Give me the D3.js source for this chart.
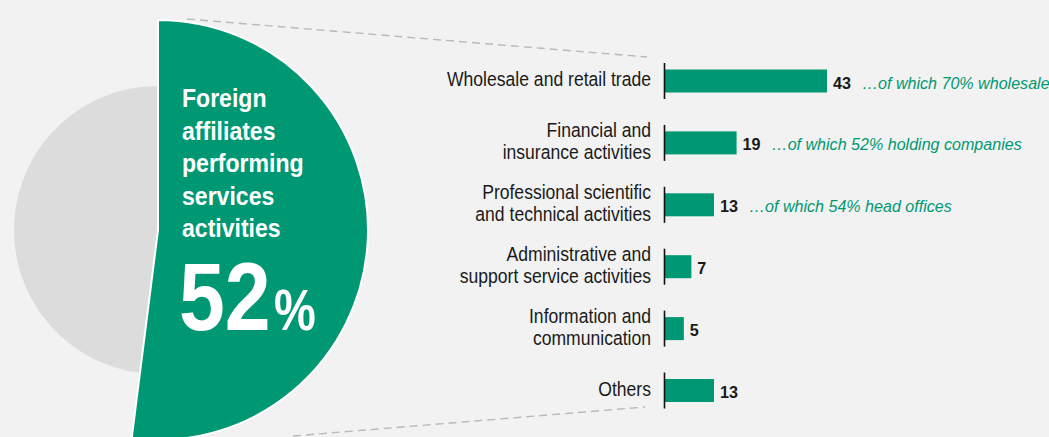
<!DOCTYPE html>
<html><head><meta charset="utf-8">
<script src="https://cdn.jsdelivr.net/npm/d3@7"></script>
<style>
html,body{margin:0;padding:0;background:#f2f2f2;}
svg{display:block;}
text{font-family:"Liberation Sans",Arial,Helvetica,sans-serif;}
</style></head><body>
<svg id="c" width="1049" height="437"></svg>
<script>
// ---- data ----
const pieLabels = ["Services activities", "Other"];
const pieValues = [52, 48];
const categories = ["Wholesale and retail trade","Financial and insurance activities","Professional scientific and technical activities","Administrative and support service activities","Information and communication","Others"];
const categoryLines = [["Wholesale and retail trade"],["Financial and","insurance activities"],["Professional scientific","and technical activities"],["Administrative and","support service activities"],["Information and","communication"],["Others"]];
const values = [43, 19, 13, 7, 5, 13];
const notes = ["\u2026of which 70% wholesale","\u2026of which 52% holding companies","\u2026of which 54% head offices","","",""];
const pieTitle = ["Foreign","affiliates","performing","services","activities"];
const pieBig = "52";

const GREEN = "#009873";
const svg = d3.select("#c");

// condensed text helper: places a horizontally-compressed text at (x,y)
function ctext(parent, x, y, sx) {
  return parent.append("g").attr("transform", `translate(${x},${y}) scale(${sx},1)`).append("text").attr("x", 0).attr("y", 0);
}

// ---- pie ----
const cx = 158, cy = 230;
const pie = d3.pie().sort(null).value(d => d)(pieValues);
const radii = [210, 144];
const g = svg.append("g").attr("transform", `translate(${cx},${cy})`);
g.append("path").attr("d", d3.arc().innerRadius(0).outerRadius(radii[1])(pie[1])).attr("fill", "#dcdcdc");
g.append("path").attr("d", d3.arc().innerRadius(0).outerRadius(radii[0])(pie[0]))
  .attr("fill", GREEN).attr("stroke", "#fff").attr("stroke-width", 2).attr("stroke-linejoin","round");

// ---- bar scales ----
const x = d3.scaleLinear().domain([0, 43]).range([665, 827]);
const y = d3.scalePoint().domain(categories).range([81, 390.5]);
const barH = 23;

// dashed connector lines
const dash = svg.append("g").attr("stroke", "#b9b9b9").attr("stroke-width", 1.4).attr("stroke-dasharray", "8,5").attr("fill","none");
dash.append("line").attr("x1", 187).attr("y1", 19).attr("x2", 647).attr("y2", 57);
dash.append("line").attr("x1", 293).attr("y1", 436).attr("x2", 645).attr("y2", 407);

// pie text
const tg = svg.append("g").attr("fill", "#fff").attr("font-weight", "bold");
pieTitle.forEach((t, i) => {
  ctext(tg, 182, 107 + i * 32.5, 0.87).attr("font-size", 26.5).text(t);
});
ctext(tg, 179, 330, 0.85).attr("font-size", 97).text(pieBig);
ctext(tg, 274, 330, 0.81).attr("font-size", 58).text("%");

// bars
const rows = svg.append("g").selectAll("g").data(categories).join("g");
rows.append("rect")
  .attr("x", x(0)).attr("y", d => y(d) - barH / 2)
  .attr("width", (d, i) => x(values[i]) - x(0)).attr("height", barH)
  .attr("fill", GREEN);
rows.append("line")
  .attr("x1", x(0) - 0.5).attr("x2", x(0) - 0.5)
  .attr("y1", d => y(d) - 18).attr("y2", d => y(d) + 18)
  .attr("stroke", "#111").attr("stroke-width", 1.6);
rows.each(function(d, i) {
  const row = d3.select(this);
  const lines = categoryLines[i];
  lines.forEach((l, j) => {
    ctext(row, 651, y(d) + 5 - (lines.length - 1) * 11 + j * 22, 0.857)
      .attr("text-anchor", "end").attr("font-size", 20.5).attr("fill", "#1a1a1a").text(l);
  });
  const vsx = 0.94;
  const vt = ctext(row, x(values[i]) + 6, y(d) + 7.5, vsx)
    .attr("font-size", 17.2).attr("font-weight", "bold").attr("fill", "#1a1a1a").text(values[i]);
  const w = vt.node().getComputedTextLength() * vsx;
  if (notes[i]) {
    ctext(row, x(values[i]) + 6 + w + 11, y(d) + 7.5, 0.935)
      .attr("font-size", 17.2).attr("font-style", "italic").attr("fill", GREEN).text(notes[i]);
  }
});
</script>
</body></html>
